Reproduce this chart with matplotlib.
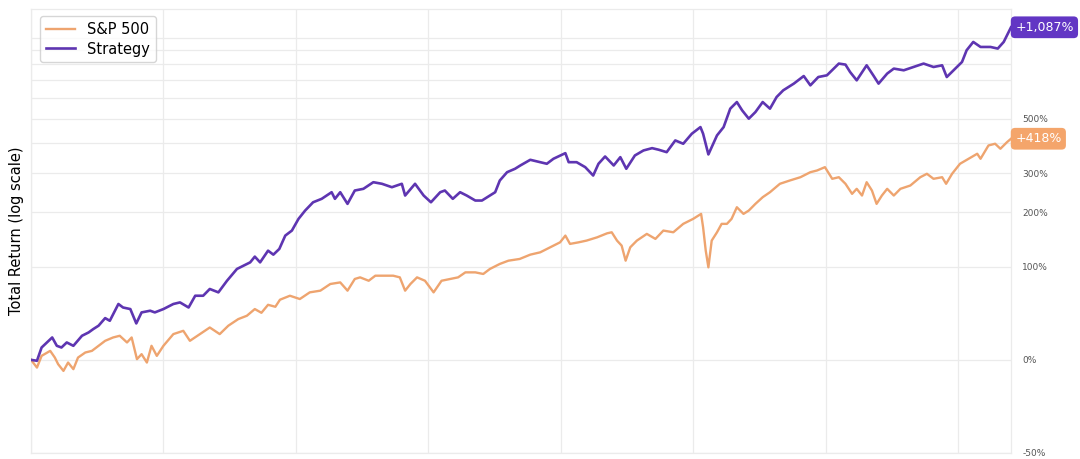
import matplotlib.pyplot as plt
from matplotlib.ticker import FixedLocator, NullFormatter

# Dates in decimal years, total return in percent
sp_dates = [2010.00, 2010.09, 2010.16, 2010.29, 2010.36, 2010.41, 2010.49, 2010.56, 2010.64, 2010.71,
            2010.82, 2010.92, 2011.02, 2011.12, 2011.24, 2011.34, 2011.45, 2011.52, 2011.60, 2011.67,
            2011.75, 2011.82, 2011.90, 2012.00, 2012.15, 2012.30, 2012.40, 2012.55, 2012.70, 2012.85,
            2012.98, 2013.13, 2013.26, 2013.38, 2013.48, 2013.58, 2013.69, 2013.76, 2013.91, 2014.06,
            2014.21, 2014.37, 2014.52, 2014.67, 2014.78, 2014.89, 2014.97, 2015.10, 2015.20, 2015.35,
            2015.47, 2015.57, 2015.65, 2015.73, 2015.83, 2015.95, 2016.08, 2016.20, 2016.33, 2016.45,
            2016.56, 2016.71, 2016.83, 2016.93, 2017.08, 2017.21, 2017.38, 2017.54, 2017.69, 2017.84,
            2017.99, 2018.07, 2018.14, 2018.27, 2018.39, 2018.55, 2018.70, 2018.77, 2018.85, 2018.92,
            2018.98, 2019.05, 2019.15, 2019.30, 2019.43, 2019.55, 2019.70, 2019.85, 2020.00, 2020.12,
            2020.15, 2020.19, 2020.23, 2020.28, 2020.36, 2020.43, 2020.51, 2020.58, 2020.66, 2020.76,
            2020.84, 2020.94, 2021.05, 2021.16, 2021.31, 2021.46, 2021.62, 2021.77, 2021.87, 2021.99,
            2022.10, 2022.20, 2022.30, 2022.40, 2022.47, 2022.55, 2022.62, 2022.70, 2022.77, 2022.85,
            2022.93, 2023.03, 2023.13, 2023.28, 2023.43, 2023.53, 2023.63, 2023.76, 2023.82, 2023.91,
            2024.03, 2024.16, 2024.29, 2024.34, 2024.46, 2024.56, 2024.64, 2024.74, 2024.80]
sp_return = [0.0, -5.6, 3.0, 6.9, 1.7, -3.2, -7.9, -2.0, -6.7, 1.7,
             5.6, 6.9, 11.0, 15.2, 18.1, 19.6, 13.8, 18.1, 0.5, 4.3,
             -2.0, 11.0, 3.0, 11.0, 21.1, 24.1, 15.2, 21.1, 27.2, 21.1,
             28.9, 35.4, 38.8, 45.9, 41.9, 50.6, 48.4, 56.4, 61.1, 57.2,
             65.2, 67.3, 75.8, 77.9, 67.3, 82.5, 84.7, 80.1, 87.0, 87.0,
             87.0, 84.7, 67.3, 75.8, 84.7, 80.1, 65.2, 80.1, 82.5, 84.7,
             91.7, 91.7, 89.4, 96.6, 104.1, 109.1, 111.8, 118.7, 122.5, 131.0,
             139.7, 152.0, 136.9, 139.7, 142.8, 148.8, 156.3, 158.3, 142.8, 133.9,
             109.1, 131.0, 142.8, 155.2, 145.9, 161.6, 158.3, 175.0, 185.4, 196.2,
             168.1, 125.3, 99.0, 142.8, 158.3, 175.0, 175.0, 185.4, 211.2, 196.2,
             203.6, 219.1, 235.3, 248.0, 270.5, 279.7, 289.1, 303.9, 309.0, 319.3,
             284.5, 289.1, 270.5, 243.8, 256.9, 239.5, 274.9, 252.4, 219.1, 239.5,
             256.9, 239.5, 256.9, 265.8, 289.1, 299.1, 284.5, 289.1, 270.5, 299.1,
             330.0, 346.3, 363.3, 346.3, 392.8, 399.1, 380.9, 405.1, 418.0]

st_dates = [2010.00, 2010.09, 2010.16, 2010.24, 2010.32, 2010.39, 2010.46, 2010.54, 2010.64, 2010.77,
            2010.87, 2010.94, 2011.02, 2011.12, 2011.19, 2011.32, 2011.39, 2011.50, 2011.59, 2011.67,
            2011.80, 2011.87, 2012.00, 2012.15, 2012.25, 2012.38, 2012.48, 2012.60, 2012.70, 2012.83,
            2012.96, 2013.11, 2013.21, 2013.31, 2013.38, 2013.46, 2013.58, 2013.66, 2013.75, 2013.84,
            2013.94, 2014.04, 2014.14, 2014.26, 2014.39, 2014.54, 2014.59, 2014.67, 2014.78, 2014.89,
            2015.02, 2015.17, 2015.30, 2015.45, 2015.60, 2015.65, 2015.80, 2015.93, 2016.04, 2016.18,
            2016.25, 2016.37, 2016.48, 2016.58, 2016.71, 2016.81, 2016.93, 2017.01, 2017.08, 2017.19,
            2017.31, 2017.39, 2017.54, 2017.69, 2017.79, 2017.89, 2018.07, 2018.12, 2018.24, 2018.37,
            2018.49, 2018.57, 2018.67, 2018.80, 2018.90, 2018.99, 2019.12, 2019.25, 2019.38, 2019.48,
            2019.60, 2019.73, 2019.85, 2019.98, 2020.11, 2020.15, 2020.23, 2020.28, 2020.36, 2020.46,
            2020.56, 2020.66, 2020.74, 2020.84, 2020.94, 2021.05, 2021.16, 2021.26, 2021.36, 2021.52,
            2021.67, 2021.77, 2021.89, 2022.02, 2022.07, 2022.20, 2022.30, 2022.37, 2022.47, 2022.62,
            2022.72, 2022.80, 2022.93, 2023.03, 2023.18, 2023.33, 2023.48, 2023.63, 2023.76, 2023.83,
            2023.96, 2024.06, 2024.13, 2024.23, 2024.34, 2024.49, 2024.60, 2024.69, 2024.80]
st_return = [0.0, -0.7, 9.6, 13.8, 18.1, 11.0, 9.6, 13.8, 11.0, 19.6,
             22.6, 25.7, 28.9, 36.4, 33.7, 51.5, 47.6, 45.9, 31.1, 42.3,
             44.1, 42.3, 45.9, 51.5, 53.3, 47.6, 61.1, 61.1, 69.4, 65.2,
             80.1, 96.6, 101.5, 106.5, 115.5, 106.5, 125.3, 118.7, 128.2, 152.0,
             161.6, 185.4, 203.6, 222.9, 231.3, 248.0, 231.3, 248.0, 219.1, 252.4,
             256.9, 274.9, 270.5, 261.2, 270.5, 239.5, 270.5, 239.5, 222.9, 248.0,
             252.4, 231.3, 248.0, 239.5, 227.1, 227.1, 239.5, 248.0, 279.7, 303.9,
             314.3, 324.6, 342.9, 335.1, 330.0, 346.3, 365.4, 335.1, 335.1, 319.3,
             294.0, 330.0, 354.0, 324.6, 351.7, 314.3, 357.4, 374.8, 383.0, 377.3,
             368.8, 411.5, 399.1, 437.8, 464.9, 437.8, 360.9, 386.6, 431.0, 464.9,
             547.9, 580.6, 539.7, 501.4, 531.7, 580.6, 547.9, 606.4, 642.6, 680.6,
             726.0, 670.7, 719.9, 730.4, 751.0, 806.1, 799.3, 751.0, 700.0, 794.6,
             730.4, 680.6, 741.1, 772.9, 762.0, 783.4, 806.1, 783.4, 794.6, 719.9,
             772.9, 817.0, 900.6, 964.4, 925.4, 925.4, 913.2, 964.4, 1087.0]

tick_vals = [-50, 0, 100, 200, 300, 500]
minor_vals = [400, 600, 700, 800, 900, 1000]

sp_color = '#eea46f'
st_color = '#5e35b1'
grid_color = '#ebebeb'

fig = plt.figure(figsize=(10.8, 4.59), dpi=100)
ax = fig.add_axes([31 / 1080, 6 / 459, 980 / 1080, 444 / 459])

# growth multiple = 1 + return
sp_growth = [1 + r / 100 for r in sp_return]
st_growth = [1 + r / 100 for r in st_return]

ax.plot(sp_dates, sp_growth, color=sp_color, lw=1.7, label='S&P 500', zorder=3)
ax.plot(st_dates, st_growth, color=st_color, lw=1.9, label='Strategy', zorder=4)

ax.set_yscale('log')
ax.set_ylim(0.5, 13.6)
ax.set_xlim(2010.0, 2024.8)

ax.yaxis.tick_right()
ax.yaxis.set_major_locator(FixedLocator([1 + v / 100 for v in tick_vals]))
ax.yaxis.set_minor_locator(FixedLocator([1 + v / 100 for v in minor_vals]))
ax.set_yticklabels([f'{v}%' for v in tick_vals])
ax.yaxis.set_minor_formatter(NullFormatter())
ax.tick_params(axis='y', which='both', length=0, pad=8, labelsize=6.5, labelcolor='#555555')

ax.set_xticks(range(2010, 2025, 2))
ax.tick_params(axis='x', length=0, labelbottom=False)

ax.grid(True, which='both', color=grid_color, lw=0.9)
ax.set_axisbelow(True)
for s in ax.spines.values():
    s.set_color(grid_color)
    s.set_linewidth(0.9)

ax.yaxis.set_label_position('left')
ax.set_ylabel('Total Return (log scale)', fontsize=10.5, labelpad=5)

leg = ax.legend(loc='upper left', fontsize=10.5, frameon=True, fancybox=True,
                borderpad=0.4, handlelength=2.0, labelspacing=0.3,
                bbox_to_anchor=(0.002, 1.0))
leg.get_frame().set_edgecolor('#cccccc')

# end-of-line value tags
for d, g, r, c in [(st_dates[-1], st_growth[-1], st_return[-1], '#6236c4'),
                   (sp_dates[-1], sp_growth[-1], sp_return[-1], '#f4a56b')]:
    ax.annotate(f'+{r:,.0f}%', xy=(d, g), xytext=(3, 0), textcoords='offset points',
                ha='left', va='center', color='white', fontsize=9,
                bbox=dict(boxstyle='round,pad=0.35', fc=c, ec='none'),
                annotation_clip=False, zorder=5)

fig.savefig('out.png', dpi=100)
